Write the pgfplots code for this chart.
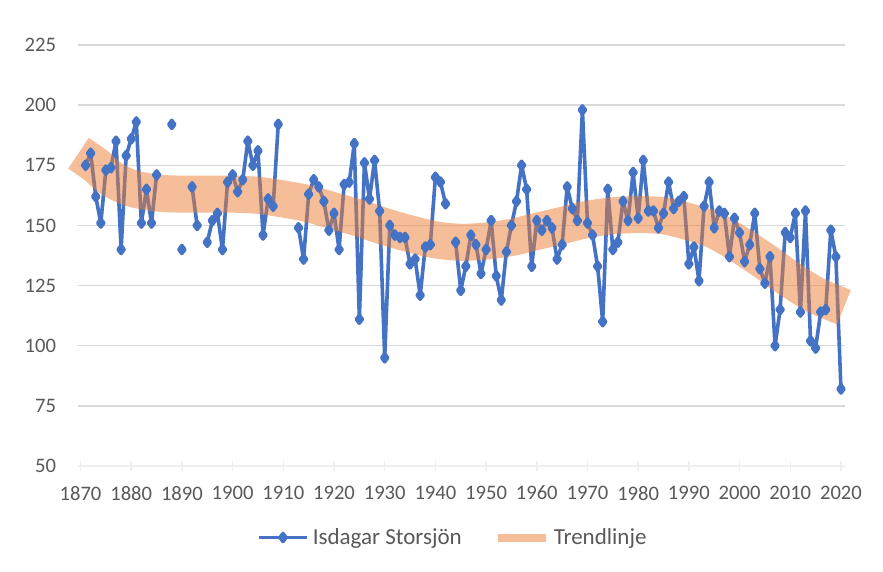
\documentclass[border=0pt]{standalone}
\usepackage{fontspec}
\setmainfont{Carlito}
\usepackage{pgfplots}
\pgfplotsset{compat=1.18}
\definecolor{exblue}{HTML}{4472C4}
\definecolor{exorange}{HTML}{ED7D31}
\definecolor{txtgray}{HTML}{595959}
\definecolor{gridgray}{HTML}{D9D9D9}
\begin{document}
\begin{tikzpicture}
\useasboundingbox (0,0) rectangle (441.5bp,286bp);
\begin{axis}[
  scale only axis,
  width=383.5bp, height=210.5bp,
  at={(39bp,53bp)}, anchor=south west,
  xmin=1869.5, xmax=2020.8,
  ymin=50, ymax=225,
  xtick={1870,1880,...,2020},
  ytick={50,75,...,225},
  ymajorgrids,
  grid style={draw=gridgray, line width=0.75bp},
  axis x line*=bottom, axis y line*=left,
  y axis line style={draw=none},
  ytick style={draw=none},
  x axis line style={draw=gridgray!110!black, line width=0.75bp},
  xtick style={draw=gridgray!110!black, line width=0.75bp},
  tick align=center, major tick length=5bp,
  /pgf/number format/assume math mode=true,
  /pgf/number format/1000 sep={},
  ticklabel style={font=\fontsize{10.3bp}{12bp}\selectfont, text=txtgray},
  yticklabel style={xshift=-5bp},
  xticklabel style={yshift=-4bp},
  unbounded coords=jump,
  clip=false,
  legend columns=2,
  legend style={at={(0.49,-0.17)}, anchor=center, draw=none, fill=none,
    font=\fontsize{11.5bp}{13bp}\selectfont, text=txtgray,
    /tikz/every even column/.append style={column sep=14bp}},
  legend cell align=left,
]
\addplot[color=exblue, line width=1.8bp, line join=round, mark=diamond*, mark size=2bp,
  legend image code/.code={\draw[mark repeat=2,mark phase=2,##1] plot coordinates {(0bp,0bp)(12bp,0bp)(24bp,0bp)};}]
coordinates {
(1871,175)(1872,180)(1873,162)(1874,151)(1875,173)(1876,174)(1877,185)(1878,140)(1879,179)(1880,186)
(1881,193)(1882,151)(1883,165)(1884,151)(1885,171)(1886,nan)(1887,nan)(1888,192)(1889,nan)(1890,140)
(1891,nan)(1892,166)(1893,150)(1894,nan)(1895,143)(1896,152)(1897,155)(1898,140)(1899,168)(1900,171)
(1901,164)(1902,169)(1903,185)(1904,175)(1905,181)(1906,146)(1907,161)(1908,158)(1909,192)(1910,nan)
(1911,nan)(1912,nan)(1913,149)(1914,136)(1915,163)(1916,169)(1917,166)(1918,160)(1919,148)(1920,155)
(1921,140)(1922,167)(1923,168)(1924,184)(1925,111)(1926,176)(1927,161)(1928,177)(1929,156)(1930,95)
(1931,150)(1932,146)(1933,145)(1934,145)(1935,134)(1936,136)(1937,121)(1938,141)(1939,142)(1940,170)
(1941,168)(1942,159)(1943,nan)(1944,143)(1945,123)(1946,133)(1947,146)(1948,142)(1949,130)(1950,140)
(1951,152)(1952,129)(1953,119)(1954,139)(1955,150)(1956,160)(1957,175)(1958,165)(1959,133)(1960,152)
(1961,148)(1962,152)(1963,149)(1964,136)(1965,142)(1966,166)(1967,157)(1968,152)(1969,198)(1970,151)
(1971,146)(1972,133)(1973,110)(1974,165)(1975,140)(1976,143)(1977,160)(1978,152)(1979,172)(1980,153)
(1981,177)(1982,156)(1983,156)(1984,149)(1985,155)(1986,168)(1987,157)(1988,160)(1989,162)(1990,134)
(1991,141)(1992,127)(1993,158)(1994,168)(1995,149)(1996,156)(1997,155)(1998,137)(1999,153)(2000,147)
(2001,135)(2002,142)(2003,155)(2004,132)(2005,126)(2006,137)(2007,100)(2008,115)(2009,147)(2010,145)
(2011,155)(2012,114)(2013,156)(2014,102)(2015,99)(2016,114)(2017,115)(2018,148)(2019,137)(2020,82)
};
\addlegendentry{Isdagar Storsjön}
\addplot[color=exorange, draw opacity=0.5, line width=18.5bp, smooth, no marks,
  legend image code/.code={\draw[color=exorange, draw opacity=0.5, line width=4bp] (0bp,0bp) -- (24bp,0bp);}]
coordinates {
(1869.6,180)(1873,175)(1876,169.5)(1880,165.5)(1885,163.5)(1890,163)(1895,163)(1900,163)(1905,162.5)
(1910,161)(1915,159)(1920,156)(1925,153)(1930,149.5)(1935,146.5)(1940,144)(1945,143)(1950,143.5)
(1955,145)(1960,147.5)(1965,150)(1970,152.5)(1975,154)(1980,154.5)(1985,154)(1990,151.5)(1995,148)
(2000,142)(2005,135)(2010,127.5)(2015,121)(2020.6,116)
};
\addlegendentry{Trendlinje}
\end{axis}
\end{tikzpicture}
\end{document}
